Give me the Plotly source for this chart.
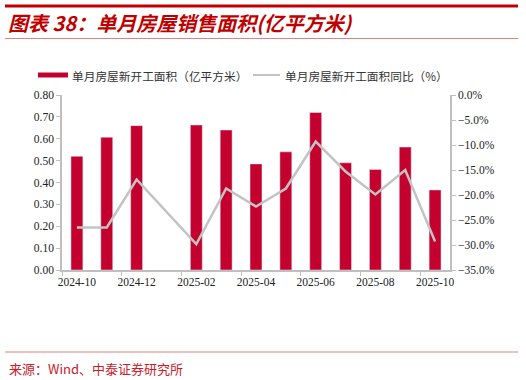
import plotly.graph_objects as go

months = ["2024-10", "2024-11", "2024-12", "2025-01", "2025-02", "2025-03", "2025-04",
          "2025-05", "2025-06", "2025-07", "2025-08", "2025-09", "2025-10"]
area = [0.52, 0.607, 0.66, None, 0.663, 0.64, 0.485, 0.54, 0.72, 0.49, 0.46, 0.562, 0.366]
yoy = [-26.5, -26.5, -16.9, None, -29.8, -18.7, -22.3, -18.7, -9.3, -15.3, -19.9, -15.0, -29.3]
yoy_frac = [None if v is None else v / 100 for v in yoy]

bar_name = "单月房屋新开工面积（亿平方米）"
line_name = "单月房屋新开工面积同比（%）"
title_text = "图表 38：单月房屋销售面积(亿平方米)"
source_text = "来源：Wind、中泰证券研究所"

RED = "#C4002F"
GRAY = "#C3C3C3"
AX = "#BFBFBF"

W, H = 526, 380
L, R, T, B = 62, 450, 95, 270

def px(x):
    return (x - L) / (R - L)

def py(y):
    return (B - y) / (B - T)

fig = go.Figure()
fig.add_trace(go.Bar(x=months, y=area, name=bar_name, marker_color=RED, yaxis="y"))
fig.add_trace(go.Scatter(x=months, y=yoy_frac, name=line_name, mode="lines",
                         line=dict(color=GRAY, width=2.5), connectgaps=True, yaxis="y2"))

tick_font = dict(family="Liberation Serif, Times New Roman, serif", size=11.5, color="#222")

fig.update_layout(
    width=W, height=H,
    margin=dict(l=L, r=W - R, t=T, b=H - B),
    paper_bgcolor="white", plot_bgcolor="white",
    showlegend=False, bargap=0.6,
    xaxis=dict(type="category", tickmode="linear", dtick=2, tick0=0,
               tickson="boundaries", ticks="outside", ticklen=4, tickcolor=AX,
               showline=True, linecolor=AX, linewidth=1.5, showgrid=False,
               tickfont=tick_font, tickangle=0),
    yaxis=dict(range=[0, 0.8], dtick=0.1, tickformat=".2f", ticks="outside",
               ticklen=4, tickcolor=AX, showline=True, linecolor=AX, linewidth=1.5,
               showgrid=False, zeroline=False, tickfont=tick_font),
    yaxis2=dict(range=[-0.35, 0], dtick=0.05, tickformat=".1%", ticks="outside",
                ticklen=4, tickcolor=AX, showline=True, linecolor=AX, linewidth=1.5,
                showgrid=False, zeroline=False, tickfont=tick_font,
                overlaying="y", side="right"),
)

shapes = [
    dict(type="line", xref="paper", yref="paper", x0=px(5), x1=px(518), y0=py(6), y1=py(6),
         line=dict(color="#C00000", width=3)),
    dict(type="line", xref="paper", yref="paper", x0=px(5), x1=px(518), y0=py(38.5), y1=py(38.5),
         line=dict(color="#E08080", width=1)),
    dict(type="line", xref="paper", yref="paper", x0=px(5), x1=px(518), y0=py(352), y1=py(352),
         line=dict(color="#EBA8A8", width=1.5)),
    dict(type="rect", xref="paper", yref="paper", x0=px(38), x1=px(68), y0=py(77.5), y1=py(72.5),
         fillcolor=RED, line=dict(width=0)),
    dict(type="line", xref="paper", yref="paper", x0=px(253), x1=px(280), y0=py(75), y1=py(75),
         line=dict(color=GRAY, width=2)),
]

cjk = "Noto Sans CJK SC"
annotations = [
    dict(text="<b><i>" + title_text + "</i></b>", xref="paper", yref="paper",
         x=px(6), y=py(22), xanchor="left", yanchor="middle", showarrow=False,
         font=dict(family=cjk, size=20, color="#C00000")),
    dict(text=bar_name, xref="paper", yref="paper", x=px(70), y=py(75),
         xanchor="left", yanchor="middle", showarrow=False,
         font=dict(family=cjk, size=11.7, color="#333")),
    dict(text=line_name, xref="paper", yref="paper", x=px(283), y=py(75),
         xanchor="left", yanchor="middle", showarrow=False,
         font=dict(family=cjk, size=11.7, color="#333")),
    dict(text=source_text, xref="paper", yref="paper", x=px(7), y=py(368),
         xanchor="left", yanchor="middle", showarrow=False,
         font=dict(family=cjk, size=13, color="#C8202A")),
]
fig.update_layout(shapes=shapes, annotations=annotations)

fig.write_html("out.html")
